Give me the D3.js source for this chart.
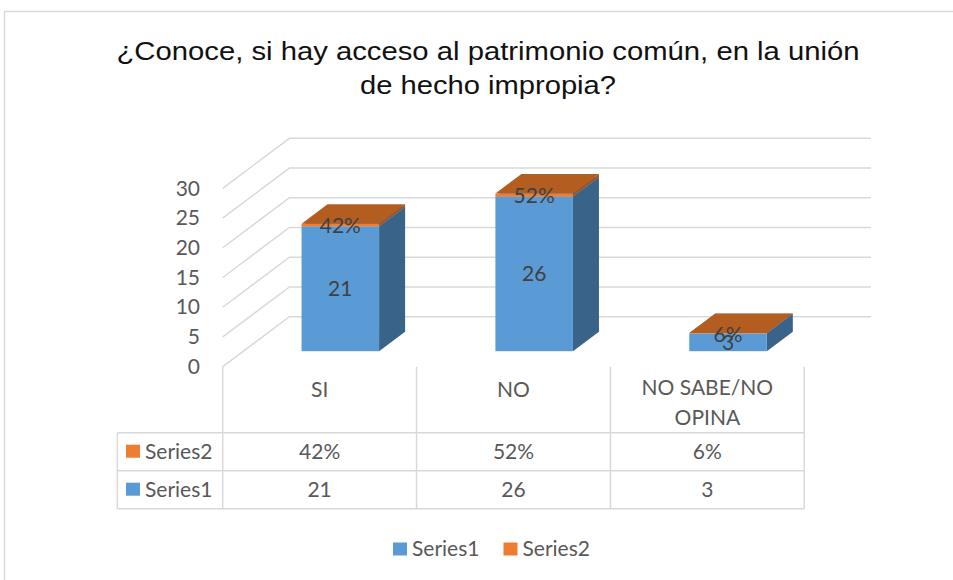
<!DOCTYPE html>
<html>
<head>
<meta charset="utf-8">
<style>
  body { margin: 0; background: #fff; }
  .title { font: 25px "Liberation Sans", Arial, sans-serif; fill: #111; }
  .lbl { font: 21px Lato, sans-serif; fill: #595959; }
  .dlbl { font: 21px Lato, sans-serif; fill: #404040; }
</style>
</head>
<body>
<svg id="chart" width="953" height="580"></svg>
<script src="https://cdnjs.cloudflare.com/ajax/libs/d3/7.8.5/d3.min.js"></script>
<script>
var titleLines = ["¿Conoce, si hay acceso al patrimonio común, en la unión", "de hecho impropia?"];
var categories = ["SI", "NO", "NO SABE/NO OPINA"];
var categoryLines = [["SI"], ["NO"], ["NO SABE/NO", "OPINA"]];
var seriesNames = ["Series1", "Series2"];
var series1 = [21, 26, 3];
var series2 = [0.42, 0.52, 0.06];
var yTicks = [0, 5, 10, 15, 20, 25, 30];

var colors = {
  front: ["#5b9bd5", "#ed7d31"],
  side: ["#3a6389", "#a0531f"],
  top: ["#4a7fb0", "#b45d21"]
};

var svg = d3.select("#chart");
var pct = d3.format(".0%");

// outer border of the chart area
svg.append("rect")
    .attr("x", 4.5).attr("y", 11.5)
    .attr("width", 1000).attr("height", 700)
    .attr("fill", "none").attr("stroke", "#d9d9d9").attr("stroke-width", 1.5);

// title, each line fitted to the width measured on the reference
var titleWidths = [743, 256];
titleLines.forEach(function(t, i) {
  svg.append("text")
      .attr("class", "title")
      .attr("text-anchor", "middle")
      .attr("x", 488)
      .attr("y", 60 + i * 34)
      .attr("textLength", titleWidths[i])
      .attr("lengthAdjust", "spacingAndGlyphs")
      .text(t);
});

// scales
var x = d3.scaleBand().domain(categories).range([222.7, 804.3]).paddingInner(0).paddingOuter(0);
var y = d3.scaleLinear().domain([0, 30]).range([366.7, 188.3]);
var DX = 66.7, DY = -50;       // full depth offset
var d0 = 0.31, d1 = 0.70;      // bar depth range
var barFrac = 0.4;

var grid = svg.append("g");
yTicks.forEach(function(t) {
  var y0 = y(t);
  grid.append("path")
      .attr("d", "M" + x.range()[0] + "," + y0 + "L" + (x.range()[0] + DX) + "," + (y0 + DY) +
                 "L" + (x.range()[1] + DX) + "," + (y0 + DY))
      .attr("fill", "none").attr("stroke", "#d9d9d9").attr("stroke-width", 1.5);
});

// y axis labels
var yAxis = svg.append("g")
    .attr("transform", "translate(206,0)")
    .call(d3.axisLeft(y).tickValues(yTicks).tickSize(0).tickPadding(6));
yAxis.select(".domain").remove();
yAxis.selectAll("text").attr("class", "lbl").attr("font-family", null).attr("font-size", null);

// bars
var bars = svg.append("g");
categories.forEach(function(c, i) {
  var bw = x.bandwidth() * barFrac;
  var cx = x(c) + x.bandwidth() / 2;
  var fx0 = cx - bw / 2 + d0 * DX, fx1 = cx + bw / 2 + d0 * DX;
  var ddx = (d1 - d0) * DX, ddy = (d1 - d0) * DY;
  var segs = [[0, series1[i]], [series1[i], series1[i] + series2[i]]];
  segs.forEach(function(s, k) {
    var yb = y(s[0]) + d0 * DY, yt = y(s[1]) + d0 * DY;
    var g = bars.append("g");
    g.append("path")
        .attr("d", "M" + fx1 + "," + yb + "L" + (fx1 + ddx) + "," + (yb + ddy) +
                   "L" + (fx1 + ddx) + "," + (yt + ddy) + "L" + fx1 + "," + yt + "Z")
        .attr("fill", colors.side[k]);
    g.append("path")
        .attr("d", "M" + fx0 + "," + yt + "L" + fx1 + "," + yt +
                   "L" + (fx1 + ddx) + "," + (yt + ddy) + "L" + (fx0 + ddx) + "," + (yt + ddy) + "Z")
        .attr("fill", colors.top[k]);
    g.append("rect")
        .attr("x", fx0).attr("y", yt)
        .attr("width", fx1 - fx0).attr("height", yb - yt)
        .attr("fill", colors.front[k]);
  });
  // data labels
  var lx = (fx0 + fx1) / 2;
  svg.append("text").attr("class", "dlbl").attr("text-anchor", "middle").attr("dy", "0.35em")
      .attr("x", lx).attr("y", (y(0) + y(series1[i])) / 2 + d0 * DY)
      .text(series1[i]);
  svg.append("text").attr("class", "dlbl").attr("text-anchor", "middle").attr("dy", "0.35em")
      .attr("x", lx).attr("y", y(series1[i] + series2[i]) + d0 * DY + 2)
      .text(pct(series2[i]));
});

// data table
var tLeft = 117.3, hTop = 366.7, rTop = 432.7, rowH = 38;
var tbl = svg.append("g").attr("stroke", "#d9d9d9").attr("stroke-width", 1.5).attr("fill", "none");
var xs = categories.map(function(c) { return x(c); }).concat([x.range()[1]]);
xs.forEach(function(xx) {
  tbl.append("line").attr("x1", xx).attr("x2", xx).attr("y1", hTop).attr("y2", rTop + 2 * rowH);
});
tbl.append("line").attr("x1", tLeft).attr("x2", tLeft).attr("y1", rTop).attr("y2", rTop + 2 * rowH);
[0, 1, 2].forEach(function(r) {
  tbl.append("line").attr("x1", tLeft).attr("x2", x.range()[1])
      .attr("y1", rTop + r * rowH).attr("y2", rTop + r * rowH);
});

categories.forEach(function(c, i) {
  var lines = categoryLines[i];
  var t = svg.append("text").attr("class", "lbl").attr("text-anchor", "middle");
  lines.forEach(function(l, j) {
    t.append("tspan").attr("x", x(c) + x.bandwidth() / 2)
        .attr("y", (lines.length === 1 ? 390 : 388) + j * 30)
        .attr("dy", "0.35em").text(l);
  });
});

var rows = [
  { name: seriesNames[1], color: colors.front[1], vals: series2.map(pct) },
  { name: seriesNames[0], color: colors.front[0], vals: series1.map(String) }
];
rows.forEach(function(r, k) {
  var cy = rTop + k * rowH + rowH / 2;
  svg.append("rect").attr("x", 126).attr("y", cy - 7).attr("width", 14).attr("height", 13).attr("fill", r.color);
  svg.append("text").attr("class", "lbl").attr("x", 145).attr("y", cy).attr("dy", "0.35em").text(r.name);
  r.vals.forEach(function(v, i) {
    svg.append("text").attr("class", "lbl").attr("text-anchor", "middle")
        .attr("x", x(categories[i]) + x.bandwidth() / 2).attr("y", cy).attr("dy", "0.35em").text(v);
  });
});

// legend
var legX = [393, 503.5];
seriesNames.forEach(function(s, i) {
  svg.append("rect").attr("x", legX[i]).attr("y", 542.5).attr("width", 14).attr("height", 13)
      .attr("fill", colors.front[i]);
  svg.append("text").attr("class", "lbl").attr("x", legX[i] + 19).attr("y", 549).attr("dy", "0.35em").text(s);
});
</script>
</body>
</html>
